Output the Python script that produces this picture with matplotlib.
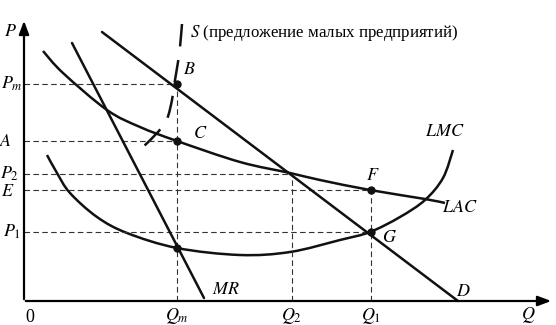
import matplotlib
matplotlib.use('Agg')
import matplotlib.pyplot as plt
from matplotlib.path import Path
from matplotlib.patches import PathPatch

plt.rcParams['font.family'] = ['Liberation Serif', 'DejaVu Serif']
plt.rcParams['mathtext.fontset'] = 'stix'

# [1] curves (Q, P)
demand_q = [78, 434]
demand_p = [269, 0]
mr_q = [48, 180]
mr_p = [258, 3]
lac_q = [19, 39, 83, 116, 153, 216, 266, 296, 346, 401, 421]
lac_p = [250, 228, 191, 174, 160, 139, 128, 121, 111, 102, 98]
lmc_q = [23, 33, 46, 73, 103, 153, 216, 266, 316, 346, 376, 401, 419, 429]
lmc_p = [146, 128, 108, 84, 68, 53, 46, 49, 61, 69, 84, 101, 123, 151]
s_q = [158, 156, 154, 150, 148, 143, 134, 119]
s_p = [277, 254, 239, 215, 201, 182, 169, 154]

# key levels
Qm, Q2, Q1 = 153, 268, 347
Pm, A, P2, E, P1 = 217, 160, 127, 111, 69
P_mr = 53


def smooth_path(xs, ys):
    # Catmull-Rom through the read points, drawn as cubic Bezier segments
    pts = list(zip(xs, ys))
    verts = [pts[0]]
    codes = [Path.MOVETO]
    for i in range(len(pts) - 1):
        p0 = pts[i - 1] if i > 0 else pts[i]
        p1 = pts[i]
        p2 = pts[i + 1]
        p3 = pts[i + 2] if i + 2 < len(pts) else pts[i + 1]
        c1 = (p1[0] + (p2[0] - p0[0]) / 6, p1[1] + (p2[1] - p0[1]) / 6)
        c2 = (p2[0] - (p3[0] - p1[0]) / 6, p2[1] - (p3[1] - p1[1]) / 6)
        verts += [c1, c2, p2]
        codes += [Path.CURVE4] * 3
    return Path(verts, codes)


fig = plt.figure(figsize=(5.56, 3.25), dpi=100)
ax = fig.add_axes([0, 0, 1, 1])
ax.set_xlim(-24, 532)
ax.set_ylim(-24, 301)
ax.axis('off')

# [2] axes with arrows
ax.annotate('', xy=(0, 283), xytext=(0, -1),
            arrowprops=dict(arrowstyle='-|>,head_length=0.8,head_width=0.3', lw=1.6, color='black'))
ax.annotate('', xy=(530, 0), xytext=(-1, 0),
            arrowprops=dict(arrowstyle='-|>,head_length=0.8,head_width=0.3', lw=1.6, color='black'))

# [3] dashed guides
gkw = dict(color='#333333', lw=0.8, linestyle=(0, (5, 3)))
ax.plot([0, Qm], [Pm, Pm], **gkw)
ax.plot([0, Qm], [A, A], **gkw)
ax.plot([0, Q2], [P2, P2], **gkw)
ax.plot([0, Q1], [E, E], **gkw)
ax.plot([0, Q1], [P1, P1], **gkw)
ax.plot([Qm, Qm], [0, Pm], **gkw)
ax.plot([Q2, Q2], [0, P2], **gkw)
ax.plot([Q1, Q1], [0, E], **gkw)

# [4] curves
ckw = dict(color='#111111', lw=1.8, solid_capstyle='round')
ax.plot(demand_q, demand_p, **ckw)
ax.plot(mr_q, mr_p, **ckw)
ax.add_patch(PathPatch(smooth_path(lac_q, lac_p), fill=False, edgecolor='#111111', lw=1.8))
ax.add_patch(PathPatch(smooth_path(lmc_q, lmc_p), fill=False, edgecolor='#111111', lw=1.8))
ax.add_patch(PathPatch(smooth_path(s_q, s_p), fill=False, edgecolor='#111111', lw=1.8,
                       linestyle=(0, (9, 5.5))))

# [5] points
ax.plot([Qm, Qm, Q1, Q1, Qm], [Pm, A, E, P1, P_mr], 'o', color='#111111', ms=5)

# [6] labels
fs = 13
ax.text(-14, 270, '$P$', fontsize=fs, ha='center', va='center')
ax.text(-12, Pm, '$P_m$', fontsize=fs, ha='center', va='center')
ax.text(-18, A, '$A$', fontsize=fs, ha='center', va='center')
ax.text(-14, P2, '$P_2$', fontsize=fs, ha='center', va='center')
ax.text(-16, E - 2, '$E$', fontsize=fs, ha='center', va='center')
ax.text(-12, P1, '$P_1$', fontsize=fs, ha='center', va='center')
ax.text(6, -16, '0', fontsize=fs, ha='center', va='center')
ax.text(Qm, -15, '$Q_m$', fontsize=fs, ha='center', va='center')
ax.text(Q2, -15, '$Q_2$', fontsize=fs, ha='center', va='center')
ax.text(Q1, -15, '$Q_1$', fontsize=fs, ha='center', va='center')
ax.text(504, -14, '$Q$', fontsize=fs, ha='center', va='center')
ax.text(439, 9, '$D$', fontsize=fs, ha='center', va='center')
ax.text(202, 12, '$MR$', fontsize=fs, ha='center', va='center')
ax.text(436, 94, '$LAC$', fontsize=fs, ha='center', va='center')
ax.text(421, 170, '$LMC$', fontsize=fs, ha='center', va='center')
ax.text(366, 63, '$G$', fontsize=fs, ha='center', va='center')
ax.text(349, 126, '$F$', fontsize=fs, ha='center', va='center')
ax.text(176, 167, '$C$', fontsize=fs, ha='center', va='center')
ax.text(165, 231, '$B$', fontsize=fs, ha='center', va='center')
ax.text(166, 268, '$S$ (предложение малых предприятий)', fontsize=12.2, ha='left', va='center')

fig.savefig('out.png', dpi=100)
